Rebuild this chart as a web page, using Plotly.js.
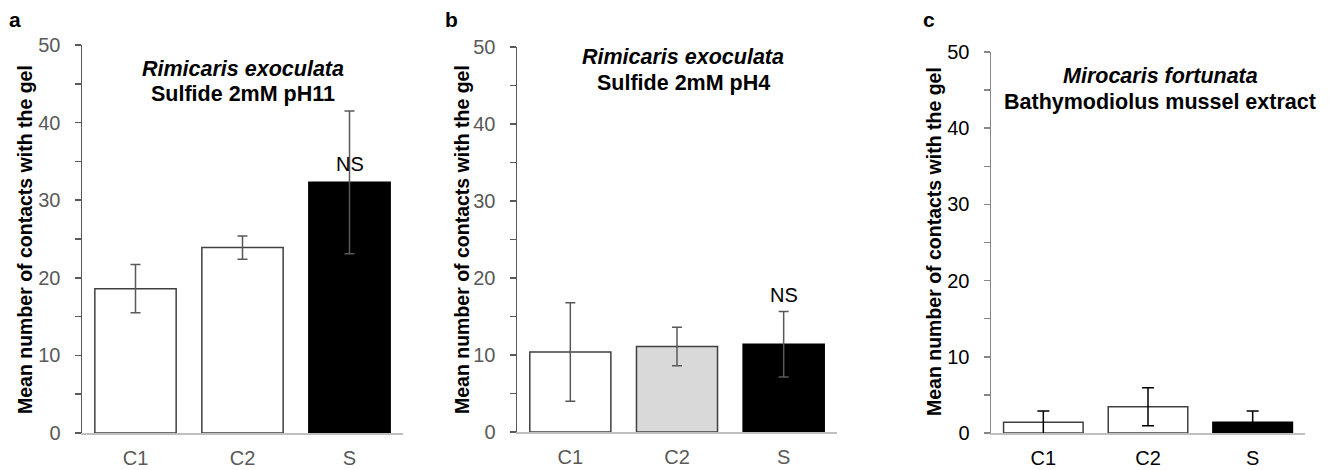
<!DOCTYPE html>
<html>
<head>
<meta charset="utf-8">
<script src="https://cdn.plot.ly/plotly-3.0.1.min.js"></script>
<style>html,body{margin:0;padding:0;background:#fff;}#chart{width:1333px;height:470px;}</style>
</head>
<body>
<div id="chart"></div>
<script>
const categories = ["C1", "C2", "S"];
const valuesA = [18.6, 23.9, 32.3];
const errorsA = [3.1, 1.5, 9.2];
const valuesB = [10.4, 11.1, 11.4];
const errorsB = [6.4, 2.5, 4.25];
const valuesC = [1.4, 3.45, 1.4];
const errorsC = [1.5, 2.5, 1.5];
const fillsA = ["#ffffff", "#ffffff", "#000000"];
const fillsB = ["#ffffff", "#d9d9d9", "#000000"];
const fillsC = ["#ffffff", "#ffffff", "#000000"];
const panelLabels = ["a", "b", "c"];
const titlesItalic = ["Rimicaris exoculata", "Rimicaris exoculata", "Mirocaris fortunata"];
const titlesPlain = ["Sulfide 2mM pH11", "Sulfide 2mM pH4", "Bathymodiolus mussel extract"];
const yTitle = "Mean number of contacts with the gel";
const sigLabel = "NS";

const W = 1333, H = 470;
const FONT = "Liberation Sans, Arial, sans-serif";
const px = x => x / W;
const py = y => 1 - y / H;

function barTrace(vals, errs, fills, lineCols, errCol, errW, ax) {
  return {
    type: "bar", x: categories, y: vals,
    xaxis: "x" + ax, yaxis: "y" + ax,
    marker: {color: fills, line: {color: lineCols, width: 1.5}},
    error_y: {type: "data", array: errs, visible: true, color: errCol, thickness: 1.5, width: errW},
    hoverinfo: "skip", showlegend: false
  };
}

const data = [
  barTrace(valuesA, errorsA, fillsA, ["#404040", "#404040", "#000000"], "#595959", 5, ""),
  barTrace(valuesB, errorsB, fillsB, ["#404040", "#404040", "#000000"], "#595959", 5, "2"),
  barTrace(valuesC, errorsC, fillsC, ["#404040", "#404040", "#000000"], "#000000", 6, "3")
];

function xax(d, anchor, col) {
  return {domain: d, anchor: anchor, showline: true, linecolor: "#bfbfbf", linewidth: 1.5,
    ticks: "", showgrid: false, zeroline: false, fixedrange: true,
    tickfont: {family: FONT, size: 20, color: col}, ticklabelstandoff: 6};
}
function yax(d, anchor, lineCol, tickCol) {
  return {domain: d, anchor: anchor, range: [0, 50], dtick: 10, showline: true, linecolor: lineCol, linewidth: 1.5,
    ticks: "outside", ticklen: 6, tickwidth: 1.5, tickcolor: lineCol,
    minor: {dtick: 5, ticks: "outside", ticklen: 6, tickwidth: 1.5, tickcolor: lineCol},
    showgrid: false, zeroline: false, fixedrange: true, ticklabelstandoff: 10,
    tickfont: {family: FONT, size: 20, color: tickCol}};
}

const layout = {
  width: W, height: H, margin: {l: 0, r: 0, t: 0, b: 0},
  paper_bgcolor: "#fff", plot_bgcolor: "rgba(0,0,0,0)",
  bargap: 0.24, font: {family: FONT},
  xaxis: xax([px(82), px(403)], "y", "#595959"),
  yaxis: yax([py(433), py(45)], "x", "#595959", "#595959"),
  xaxis2: xax([px(517), px(837)], "y2", "#595959"),
  yaxis2: yax([py(432), py(47)], "x2", "#595959", "#595959"),
  xaxis3: xax([px(991), px(1305)], "y3", "#000000"),
  yaxis3: yax([py(433), py(52)], "x3", "#868686", "#000000"),
  annotations: []
};

const labelPos = [[15, 19], [452, 20], [929, 20]];
const yTitlePos = [[25, 240], [462, 240], [934, 242]];
const titlePos = [[243, 69, 94], [683, 57, 83], [1160, 76, 102]];
for (let i = 0; i < 3; i++) {
  layout.annotations.push({xref: "paper", yref: "paper", x: px(labelPos[i][0]), y: py(labelPos[i][1]),
    text: "<b>" + panelLabels[i] + "</b>", showarrow: false, xanchor: "center", yanchor: "middle",
    font: {family: FONT, size: 21, color: "#000"}});
  layout.annotations.push({xref: "paper", yref: "paper", x: px(yTitlePos[i][0]), y: py(yTitlePos[i][1]),
    text: "<b>" + yTitle + "</b>", textangle: -90, showarrow: false, xanchor: "center", yanchor: "middle",
    font: {family: FONT, size: 19.5, color: "#000"}});
  layout.annotations.push({xref: "paper", yref: "paper", x: px(titlePos[i][0]), y: py(titlePos[i][1]),
    text: "<b><i>" + titlesItalic[i] + "</i></b>", showarrow: false, xanchor: "center", yanchor: "middle",
    font: {family: FONT, size: 21.5, color: "#000"}});
  layout.annotations.push({xref: "paper", yref: "paper", x: px(titlePos[i][0]), y: py(titlePos[i][2]),
    text: "<b>" + titlesPlain[i] + "</b>", showarrow: false, xanchor: "center", yanchor: "middle",
    font: {family: FONT, size: 21.5, color: "#000"}});
}
// NS labels anchored to the S bar in panels a and b
layout.annotations.push({xref: "x", yref: "y", x: "S", y: valuesA[2], yshift: 5, text: sigLabel,
  showarrow: false, xanchor: "center", yanchor: "bottom", font: {family: FONT, size: 20, color: "#000"}});
layout.annotations.push({xref: "x2", yref: "y2", x: "S", y: valuesB[2] + errorsB[2], yshift: 4, text: sigLabel,
  showarrow: false, xanchor: "center", yanchor: "bottom", font: {family: FONT, size: 20, color: "#000"}});

Plotly.newPlot("chart", data, layout, {staticPlot: true});
</script>
</body>
</html>
